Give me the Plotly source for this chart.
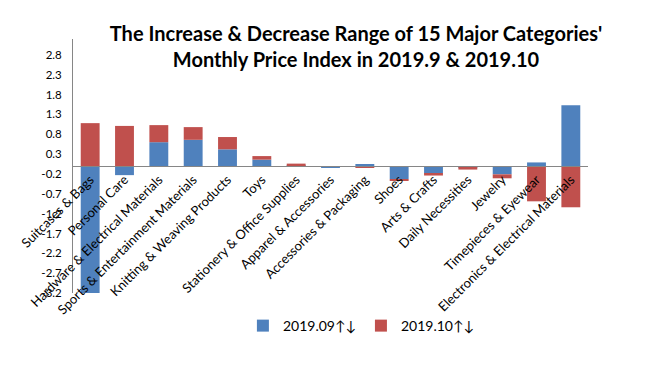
import plotly.graph_objects as go

categories = ["Suitcases & Bags", "Personal Care", "Hardware & Electrical Materials",
              "Sports & Entertainment Materials", "Knitting & Weaving Products", "Toys",
              "Stationery & Office Supplies", "Apparel & Accessories", "Accessories & Packaging",
              "Shoes", "Arts & Crafts", "Daily Necessities", "Jewelry",
              "Timepieces & Eyewear", "Electronics & Electrical Materials"]
sep_2019 = [-3.22, -0.23, 0.60, 0.66, 0.42, 0.16, 0.01, -0.03, 0.04,
            -0.33, -0.19, -0.05, -0.21, 0.09, 1.53]
oct_2019 = [1.08, 1.01, 0.43, 0.32, 0.31, 0.09, 0.05, 0.0, -0.03,
            -0.03, -0.05, -0.04, -0.10, -0.89, -1.04]
y_tick_vals = [-3.2, -2.7, -2.2, -1.7, -1.2, -0.7, -0.2, 0.3, 0.8, 1.3, 1.8, 2.3, 2.8]
y_tick_text = ["-3.2", "-2.7", "-2.2", "-1.7", "-1.2", "-0.7", "-0.2", "0.3", "0.8",
               "1.3", "1.8", "2.3", "2.8"]
series_names = ["2019.09↑↓", "2019.10↑↓"]

FONT = "Lato"
W, H = 641, 360

fig = go.Figure()
fig.add_trace(go.Bar(x=categories, y=sep_2019, name=series_names[0],
                     marker=dict(color="#4F81BD", line=dict(width=0))))
fig.add_trace(go.Bar(x=categories, y=oct_2019, name=series_names[1],
                     marker=dict(color="#C0504D", line=dict(width=0))))

fig.update_layout(
    width=W, height=H,
    margin=dict(l=65, r=61, t=31, b=75, autoexpand=False),
    paper_bgcolor="white", plot_bgcolor="white",
    barmode="relative", bargap=0.45,
    font=dict(family=FONT, size=11, color="black"),
    title=dict(text="The Increase & Decrease Range of 15 Major Categories'<br>Monthly Price Index in 2019.9 & 2019.10",
               x=348/W, xanchor="center", y=1 - 33/H, yanchor="middle",
               font=dict(family=FONT, size=20, color="black", weight="bold")),
    legend=dict(orientation="h", x=0.560, xanchor="center", y=-0.13, yanchor="middle",
                font=dict(family=FONT, size=14, color="black"), itemwidth=30,
                bgcolor="rgba(0,0,0,0)", traceorder="normal"),
    showlegend=True,
)
fig.update_xaxes(anchor="free", position=0.5, showline=True, linecolor="#868686",
                 linewidth=1, showgrid=False, tickangle=-45, ticks="", automargin=False,
                 tickfont=dict(family=FONT, size=13, color="black"))
fig.update_yaxes(range=[-3.2, 3.2], tickvals=y_tick_vals, ticktext=y_tick_text,
                 showline=True, linecolor="#868686", linewidth=1, showgrid=False,
                 zeroline=False, ticks="", automargin=False, ticklabelstandoff=8,
                 tickfont=dict(family=FONT, size=11.5, color="black"))

fig.write_html("out.html")
